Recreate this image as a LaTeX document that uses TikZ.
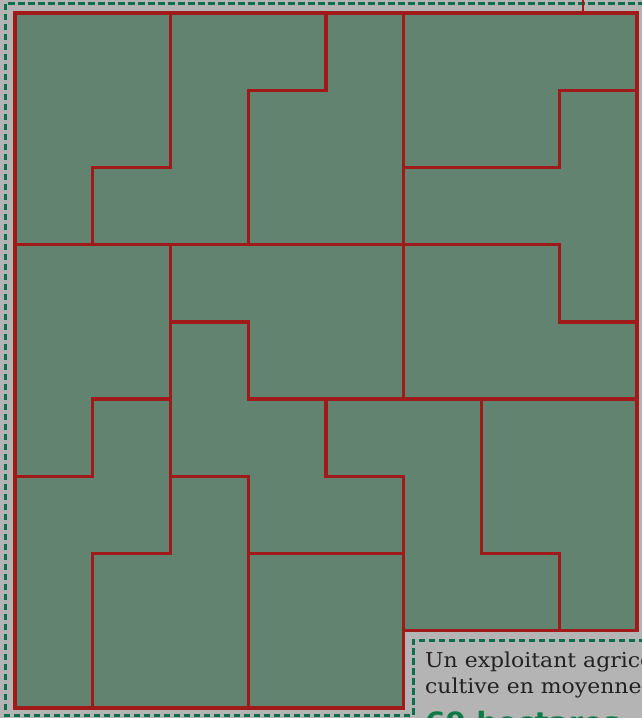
\documentclass[tikz,border=0pt]{standalone}
\usepackage{fontspec}
\setmainfont{DejaVu Serif}
\newfontfamily\bodyserif[FakeStretch=1.07]{DejaVu Serif}
\newfontfamily\heavysans[FakeStretch=1.05]{DejaVu Sans}
\definecolor{bg}{HTML}{B4B4B4}
\definecolor{field}{HTML}{628370}
\definecolor{fence}{HTML}{A11A1A}
\definecolor{frame}{HTML}{0B6E4F}
\definecolor{ink}{HTML}{222222}
\definecolor{hl}{HTML}{0B7A45}
\begin{document}
\begin{tikzpicture}[x=1pt,y=-1pt,
  fenceline/.style={draw=fence, line width=3.4pt, line cap=rect, line join=miter},
  frameline/.style={draw=frame, line width=3pt, dash pattern=on 6.5pt off 3.5pt},
  txt/.style={anchor=base west, inner sep=0pt, text=ink, font=\bodyserif\fontsize{20.5}{24}\selectfont}]
\useasboundingbox (0,0) rectangle (642,718);
\fill[bg] (0,0) rectangle (642,718);
\clip (0,0) rectangle (642,718);
% outer dashed frame
\draw[frameline] (410,715) -- (5,715) -- (5,3) -- (645,3);
% small stub at top
\draw[draw=fence, line width=2.8pt] (583,0) -- (583,13);
\begin{scope}[shift={(15,13)}, x=77.75pt, y=-77.2pt]
  \fill[field] (0,0) -- (8,0) -- (8,8) -- (5,8) -- (5,9) -- (0,9) -- cycle;
  \draw[fenceline] (2,0) -- (2,2) -- (1,2) -- (1,3);
  \draw[fenceline] (4,0) -- (4,1) -- (3,1) -- (3,3);
  \draw[fenceline] (5,0) -- (5,5);
  \draw[fenceline] (5,2) -- (7,2) -- (7,1) -- (8,1);
  \draw[fenceline] (0,3) -- (7,3) -- (7,4) -- (8,4);
  \draw[fenceline] (2,3) -- (2,7);
  \draw[fenceline] (2,4) -- (3,4) -- (3,5) -- (8,5);
  \draw[fenceline] (2,5) -- (1,5) -- (1,6) -- (0,6);
  \draw[fenceline] (2,6) -- (3,6) -- (3,9);
  \draw[fenceline] (4,5) -- (4,6) -- (5,6) -- (5,8);
  \draw[fenceline] (2,7) -- (1,7) -- (1,9);
  \draw[fenceline] (3,7) -- (5,7);
  \draw[fenceline] (6,5) -- (6,7) -- (7,7) -- (7,8);
  \draw[fenceline] (0,0) -- (8,0) -- (8,8) -- (5,8) -- (5,9) -- (0,9) -- cycle;
\end{scope}
% text box frame
\draw[frameline] (645,640) -- (413,640) -- (413,720);
\node[txt] (t1) at (425,667) {Un exploitant agricole};
\node[txt] (t2) at (425,693) {cultive en moyenne};
\node[txt, text=hl, font=\heavysans\bfseries\fontsize{28}{32}\selectfont] (t3) at (425,732) {69 hectares};
\end{tikzpicture}
\end{document}
